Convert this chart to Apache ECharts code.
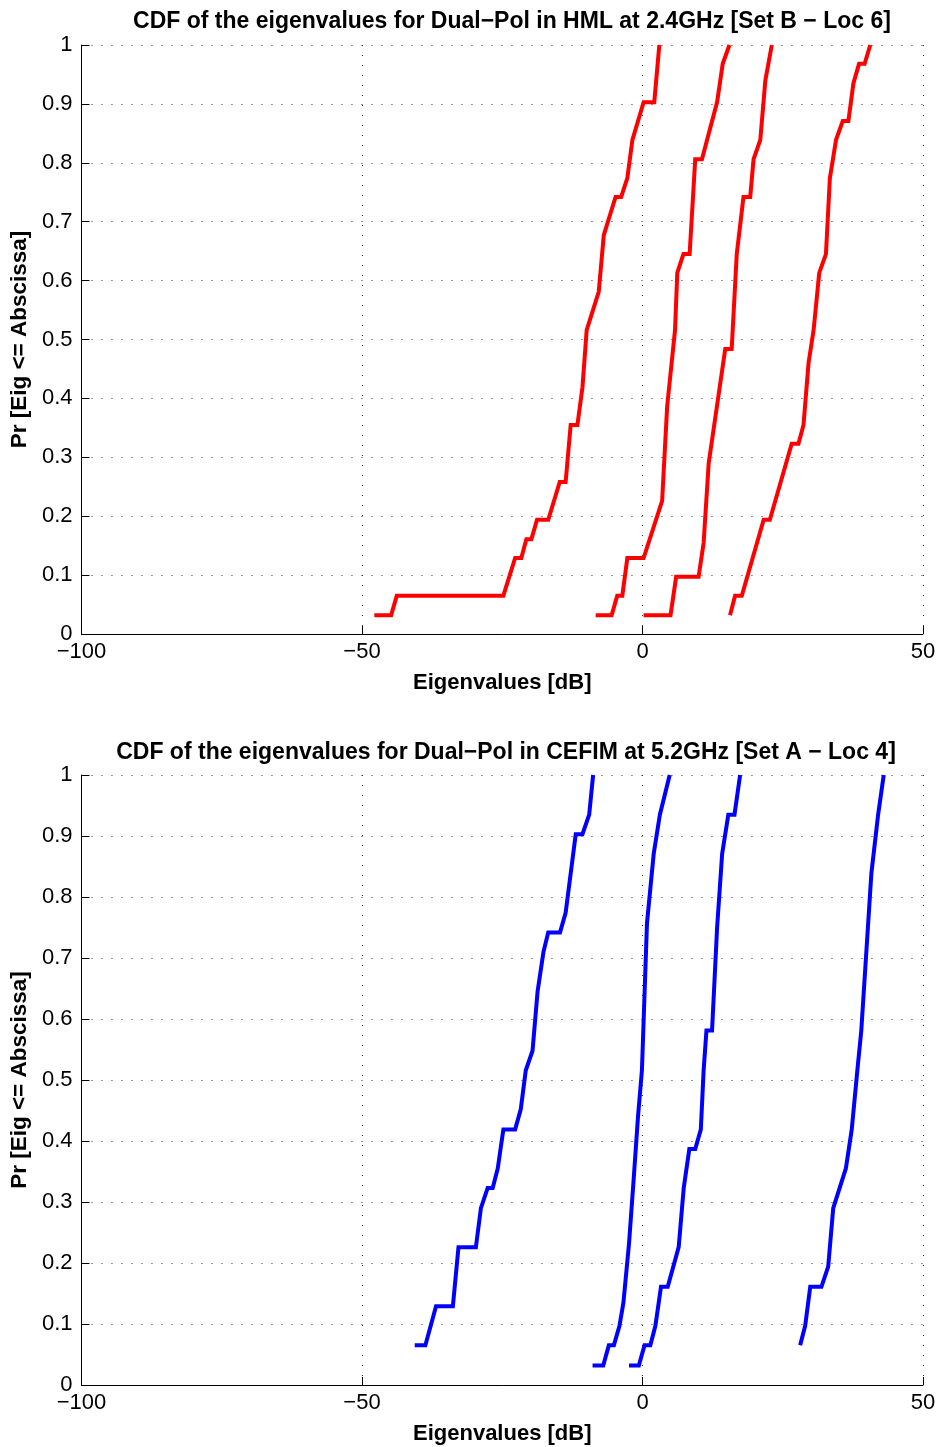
<!DOCTYPE html>
<html>
<head>
<meta charset="utf-8">
<script src="https://cdn.jsdelivr.net/npm/echarts@6/dist/echarts.min.js"></script>
<style>
html,body{margin:0;padding:0;background:#fff;}
#chart{width:940px;height:1447px;}
</style>
</head>
<body>
<div id="chart"></div>
<script>
// ---- Data (x = eigenvalue in dB, y = CDF) ----
var titleTop = 'CDF of the eigenvalues for Dual\u2212Pol in HML at 2.4GHz [Set B \u2212 Loc 6]';
var titleBottom = 'CDF of the eigenvalues for Dual\u2212Pol in CEFIM at 5.2GHz [Set A \u2212 Loc 4]';
var xAxisName = 'Eigenvalues [dB]';
var yAxisName = 'Pr [Eig <= Abscissa]';
var xTicks = [-100, -50, 0, 50];
var yTicks = [0, 0.1, 0.2, 0.3, 0.4, 0.5, 0.6, 0.7, 0.8, 0.9, 1];

// Top chart (HML, 2.4GHz) - red
var hmlEig1 = [[-47.8,0.032],[-44.8,0.032],[-43.8,0.065],[-24.8,0.065],[-22.7,0.129],[-21.6,0.129],[-20.7,0.161],[-19.8,0.161],[-18.8,0.194],[-16.8,0.194],[-14.75,0.258],[-13.7,0.258],[-12.8,0.355],[-11.6,0.355],[-10.7,0.419],[-9.95,0.516],[-7.8,0.581],[-6.9,0.677],[-4.8,0.742],[-3.8,0.742],[-2.7,0.774],[-1.8,0.839],[0.2,0.903],[2.1,0.903],[3.0,1.0]];
var hmlEig2 = [[-8.35,0.032],[-5.5,0.032],[-4.5,0.065],[-3.6,0.065],[-2.7,0.129],[0.2,0.129],[3.5,0.226],[4.4,0.387],[5.8,0.516],[6.2,0.613],[7.3,0.645],[8.4,0.645],[9.4,0.806],[10.6,0.806],[13.3,0.903],[14.3,0.968],[15.5,1.0]];
var hmlEig3 = [[0.2,0.032],[5.0,0.032],[6.0,0.097],[10.0,0.097],[10.9,0.155],[11.8,0.29],[14.75,0.484],[15.9,0.484],[16.8,0.645],[18.0,0.742],[19.2,0.742],[19.8,0.806],[21.0,0.839],[21.9,0.94],[23.05,1.0]];
var hmlEig4 = [[15.6,0.032],[16.5,0.065],[17.7,0.065],[21.6,0.194],[22.7,0.194],[26.6,0.323],[27.8,0.323],[28.7,0.355],[29.6,0.46],[30.5,0.516],[31.5,0.613],[32.7,0.645],[33.4,0.774],[34.5,0.839],[35.7,0.871],[36.7,0.871],[37.6,0.935],[38.6,0.968],[39.6,0.968],[40.6,1.0]];

// Bottom chart (CEFIM, 5.2GHz) - blue
var cefimEig1 = [[-40.6,0.065],[-38.7,0.065],[-36.8,0.129],[-33.8,0.129],[-32.8,0.226],[-29.7,0.226],[-28.8,0.29],[-27.6,0.323],[-26.7,0.323],[-25.8,0.355],[-24.8,0.419],[-22.7,0.419],[-21.7,0.452],[-20.8,0.516],[-19.6,0.548],[-18.7,0.645],[-17.65,0.71],[-16.8,0.742],[-14.7,0.742],[-13.7,0.774],[-11.9,0.903],[-10.7,0.903],[-9.5,0.935],[-8.8,1.0]];
var cefimEig2 = [[-8.9,0.032],[-7.0,0.032],[-6.0,0.065],[-5.1,0.065],[-4.1,0.097],[-3.4,0.135],[-2.4,0.232],[-1.5,0.347],[-0.8,0.44],[-0.1,0.516],[0.8,0.757],[2.0,0.871],[3.1,0.935],[4.85,1.0]];
var cefimEig3 = [[-2.4,0.032],[-0.65,0.032],[0.36,0.065],[1.4,0.065],[2.3,0.097],[3.3,0.161],[4.5,0.161],[6.45,0.226],[7.35,0.323],[8.35,0.387],[9.4,0.387],[10.4,0.419],[10.9,0.516],[11.4,0.581],[12.4,0.581],[13.3,0.75],[14.2,0.871],[15.3,0.935],[16.4,0.935],[17.4,1.0]];
var cefimEig4 = [[28.1,0.065],[29.0,0.097],[29.9,0.161],[31.9,0.161],[33.1,0.194],[34.0,0.29],[36.25,0.355],[37.3,0.419],[38.3,0.516],[39.0,0.581],[40.8,0.839],[42.0,0.935],[43.0,1.0]];

var topSeries = [hmlEig1, hmlEig2, hmlEig3, hmlEig4];
var bottomSeries = [cefimEig1, cefimEig2, cefimEig3, cefimEig4];

// ---- Styling ----
var FONT = '"Liberation Sans", Arial, Helvetica, sans-serif';
var gridDot = { color: '#333', width: 1, type: [1, 9] };

function makeX(gridIndex) {
  return {
    type: 'value', gridIndex: gridIndex,
    min: xTicks[0], max: xTicks[xTicks.length - 1], interval: xTicks[1] - xTicks[0],
    name: xAxisName, nameLocation: 'middle', nameGap: 38,
    nameTextStyle: { fontFamily: FONT, fontSize: 22, fontWeight: 'bold', color: '#000' },
    axisLine: { show: true, onZero: false, lineStyle: { color: '#000', width: 1 } },
    axisTick: { show: true, inside: true, length: 8, lineStyle: { color: '#000' } },
    axisLabel: { fontFamily: FONT, fontSize: 22, color: '#000', margin: 7,
      formatter: function (v) { return String(v).replace('-', '\u2212'); } },
    splitLine: { show: true, lineStyle: gridDot }
  };
}
function makeY(gridIndex) {
  return {
    type: 'value', gridIndex: gridIndex,
    min: yTicks[0], max: yTicks[yTicks.length - 1], interval: yTicks[1] - yTicks[0],
    name: yAxisName, nameLocation: 'middle', nameGap: 42, nameRotate: 90,
    nameTextStyle: { fontFamily: FONT, fontSize: 22.5, fontWeight: 'bold', color: '#000' },
    axisLine: { show: true, onZero: false, lineStyle: { color: '#000', width: 1 } },
    axisTick: { show: true, inside: true, length: 8, lineStyle: { color: '#000' } },
    axisLabel: { fontFamily: FONT, fontSize: 22, color: '#000', margin: 9,
      formatter: function (v) { return String(+v.toFixed(1)); } },
    splitLine: { show: true, lineStyle: gridDot }
  };
}

var series = [];
topSeries.forEach(function (d) {
  series.push({ type: 'line', xAxisIndex: 0, yAxisIndex: 0, data: d, symbol: 'none',
    lineStyle: { color: '#ff0000', width: 4, join: 'miter' }, silent: true, animation: false });
});
bottomSeries.forEach(function (d) {
  series.push({ type: 'line', xAxisIndex: 1, yAxisIndex: 1, data: d, symbol: 'none',
    lineStyle: { color: '#0000ff', width: 4, join: 'miter' }, silent: true, animation: false });
});

var chart = echarts.init(document.getElementById('chart'), null, { renderer: 'canvas' });
chart.setOption({
  backgroundColor: '#fff',
  animation: false,
  title: [
    { text: titleTop, left: 507, top: 5, textAlign: 'center',
      textStyle: { fontFamily: FONT, fontSize: 23, fontWeight: 'bold', color: '#000' } },
    { text: titleBottom, left: 501, top: 736, textAlign: 'center',
      textStyle: { fontFamily: FONT, fontSize: 23, fontWeight: 'bold', color: '#000' } }
  ],
  grid: [
    { left: 79, top: 45, width: 844, height: 589, containLabel: false },
    { left: 79, top: 775, width: 844, height: 610, containLabel: false }
  ],
  xAxis: [makeX(0), makeX(1)],
  yAxis: [makeY(0), makeY(1)],
  series: series
});
</script>
</body>
</html>
